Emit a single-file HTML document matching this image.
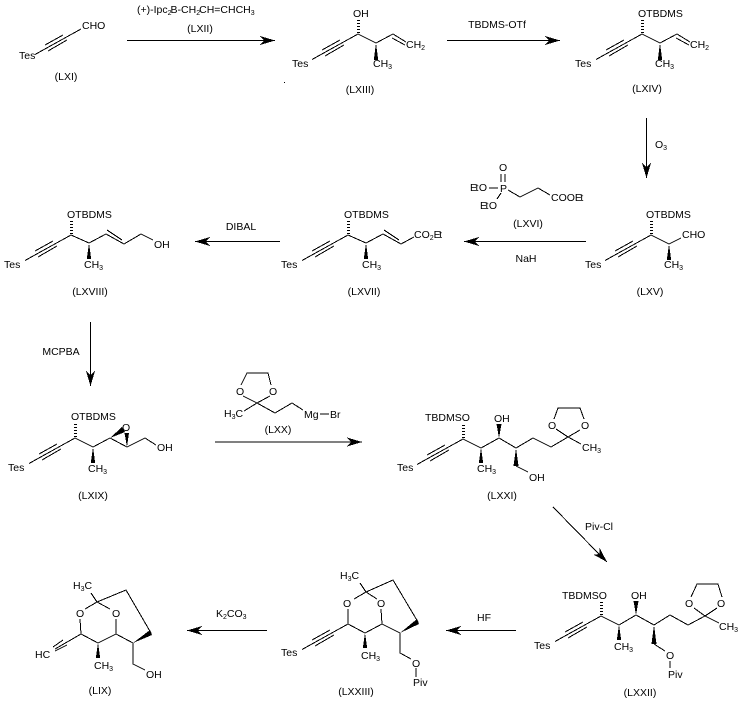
<!DOCTYPE html>
<html><head><meta charset="utf-8"><style>
html,body{margin:0;padding:0;background:#fff}
svg{display:block}
text{font-family:"Liberation Sans",sans-serif;font-size:10.5px;fill:#000}
.m{text-anchor:middle}
.s{font-size:7px}
line,polyline{stroke:#000;stroke-width:1;fill:none;shape-rendering:crispEdges}
polygon{shape-rendering:crispEdges}
.h{stroke-width:2.6;stroke-dasharray:1 2}
</style></head><body>
<svg width="742" height="711" viewBox="0 0 742 711" xmlns="http://www.w3.org/2000/svg">
<defs>
<g id="hr"><line x1="0" y1="0" x2="-14" y2="0"/><polygon points="0,0 -15,-4.5 -11,0 -15,4.5" fill="#000"/></g>
<g id="tb"><line x1="-46" y1="25.5" x2="0" y2="0"/><line x1="-36" y1="16" x2="-18" y2="6"/><line x1="-33" y1="22" x2="-14" y2="11"/></g>
</defs>

<!-- arrows -->
<line x1="127" y1="40.5" x2="262" y2="40.5"/><use href="#hr" transform="translate(275,40.5)"/>
<line x1="447" y1="40.5" x2="548" y2="40.5"/><use href="#hr" transform="translate(560,40.5)"/>
<line x1="646.5" y1="118" x2="646.5" y2="166"/><use href="#hr" transform="translate(646.5,178) rotate(90)"/>
<line x1="586" y1="241.5" x2="476" y2="241.5"/><use href="#hr" transform="translate(464,241.5) rotate(180)"/>
<line x1="280" y1="241.5" x2="207" y2="241.5"/><use href="#hr" transform="translate(195,241.5) rotate(180)"/>
<line x1="90.5" y1="322" x2="90.5" y2="374"/><use href="#hr" transform="translate(90.5,386) rotate(90)"/>
<line x1="215" y1="442" x2="350" y2="442"/><use href="#hr" transform="translate(362,442)"/>
<line x1="553" y1="507" x2="598" y2="553"/><use href="#hr" transform="translate(607,562) rotate(45.5)"/>
<line x1="516" y1="630.5" x2="458" y2="630.5"/><use href="#hr" transform="translate(446,630.5) rotate(180)"/>
<line x1="267" y1="630.5" x2="199" y2="630.5"/><use href="#hr" transform="translate(187,630.5) rotate(180)"/>

<!-- reagent labels -->
<text x="137" y="13">(+)-Ipc<tspan class="s" dy="2">2</tspan><tspan dy="-2" dx="-1">B-CH</tspan><tspan class="s" dy="2">2</tspan><tspan dy="-2" dx="-1">CH=CHCH</tspan><tspan class="s" dy="2">3</tspan></text>
<text class="m" x="200" y="32">(LXII)</text>
<text class="m" x="497" y="28">TBDMS-OTf</text>
<text x="655" y="148">O<tspan class="s" dy="2">3</tspan></text>
<text class="m" x="526" y="262">NaH</text>
<text class="m" x="241" y="230">DIBAL</text>
<text class="m" x="61" y="355">MCPBA</text>
<text x="585" y="530">Piv-Cl</text>
<text class="m" x="484" y="621">HF</text>
<text x="216" y="617">K<tspan class="s" dy="2">2</tspan><tspan dy="-2">CO</tspan><tspan class="s" dy="2">3</tspan></text>

<!-- LXI -->
<use href="#tb" transform="translate(81,29)"/>
<text x="19" y="59">Tes</text><text x="82" y="29">CHO</text>
<text class="m" x="66" y="80">(LXI)</text>

<!-- LXIII -->
<use href="#tb" transform="translate(358,34)"/>
<line class="h" x1="358.5" y1="33" x2="358.5" y2="19"/>
<polyline points="358,34 376,43 393,34 406,42"/><line x1="392" y1="38" x2="405" y2="45"/>
<polygon points="376,43 373.8,60 378.2,60" fill="#000"/>
<text x="292" y="67">Tes</text><text x="353" y="17">OH</text>
<text x="406" y="48">CH<tspan class="s" dy="2">2</tspan></text>
<text x="373" y="67">CH<tspan class="s" dy="2">3</tspan></text>
<text class="m" x="360" y="93">(LXIII)</text>
<rect x="284" y="82" width="1" height="1" fill="#000"/>

<!-- LXIV -->
<use href="#tb" transform="translate(642,34)"/>
<line class="h" x1="642.5" y1="33" x2="642.5" y2="19"/>
<polyline points="642,34 660,43 677,34 690,42"/><line x1="676" y1="38" x2="689" y2="45"/>
<polygon points="660,43 657.8,60 662.2,60" fill="#000"/>
<text x="575" y="67">Tes</text><text x="638" y="17">OTBDMS</text>
<text x="690" y="48">CH<tspan class="s" dy="2">2</tspan></text>
<text x="655" y="67">CH<tspan class="s" dy="2">3</tspan></text>
<text class="m" x="647" y="92">(LXIV)</text>

<!-- LXV -->
<use href="#tb" transform="translate(651,235)"/>
<line class="h" x1="651.5" y1="234" x2="651.5" y2="220"/>
<polyline points="651,235 669,244 681,238"/>
<polygon points="669,244 666.8,260 671.2,260" fill="#000"/>
<text x="585" y="268">Tes</text><text x="646" y="218">OTBDMS</text>
<text x="682" y="238">CHO</text>
<text x="664" y="268">CH<tspan class="s" dy="2">3</tspan></text>
<text class="m" x="650" y="295">(LXV)</text>

<!-- LXVI -->
<text x="499" y="171">O</text>
<line x1="501" y1="174" x2="501" y2="182"/><line x1="505" y1="174" x2="505" y2="182"/>
<text x="500" y="192">P</text>
<line x1="489" y1="188" x2="498" y2="188"/>
<line x1="497" y1="199" x2="501" y2="193"/>
<polyline points="508,190 520,197 538,188 550,195"/>
<text x="470" y="191" letter-spacing="-1.5">Et<tspan letter-spacing="0" dx="2">O</tspan></text>
<text x="480" y="209" letter-spacing="-1.5">Et<tspan letter-spacing="0" dx="2">O</tspan></text>
<text x="551" y="201">COO<tspan letter-spacing="-1.5">Et</tspan></text>
<text class="m" x="528" y="227">(LXVI)</text>

<!-- LXVII -->
<use href="#tb" transform="translate(348,235)"/>
<line class="h" x1="348.5" y1="234" x2="348.5" y2="220"/>
<polyline points="348,235 366,243 383,234 401,244 414,237"/><line x1="384" y1="230" x2="399" y2="240"/>
<polygon points="366,243 363.8,259 368.2,259" fill="#000"/>
<text x="281" y="268">Tes</text><text x="344" y="218">OTBDMS</text>
<text x="414" y="238">CO<tspan class="s" dy="2">2</tspan><tspan dy="-2" letter-spacing="-1.5">Et</tspan></text>
<text x="362" y="268">CH<tspan class="s" dy="2">3</tspan></text>
<text class="m" x="364" y="295">(LXVII)</text>

<!-- LXVIII -->
<use href="#tb" transform="translate(71,235)"/>
<line class="h" x1="71.5" y1="234" x2="71.5" y2="220"/>
<polyline points="71,235 89,243 106,234 124,244 141,234 153,240"/><line x1="107" y1="230" x2="122" y2="240"/>
<polygon points="89,243 86.8,259 91.2,259" fill="#000"/>
<text x="4" y="268">Tes</text><text x="67" y="218">OTBDMS</text>
<text x="154" y="248">OH</text>
<text x="84" y="268">CH<tspan class="s" dy="2">3</tspan></text>
<text class="m" x="90" y="295">(LXVIII)</text>

<!-- LXIX -->
<use href="#tb" transform="translate(75,438)"/>
<line class="h" x1="75.5" y1="437" x2="75.5" y2="423"/>
<polyline points="75,438 93,447 110,438 127,447 145,438 156,445"/>
<polygon points="110,438 122,427 125,432" fill="#000"/>
<polygon points="127,447 124.5,433 129,433" fill="#000"/>
<polygon points="93,447 90.8,463 95.2,463" fill="#000"/>
<text x="71" y="420">OTBDMS</text><text x="122" y="431">O</text>
<text x="8" y="471">Tes</text><text x="157" y="451">OH</text>
<text x="88" y="472">CH<tspan class="s" dy="2">3</tspan></text>
<text class="m" x="93" y="499">(LXIX)</text>

<!-- LXX -->
<polyline points="241,385 247,373 268,373 271,385"/>
<polyline points="243,396 257,403 270,396"/>
<polyline points="244,411 257,403 275,413 292,403 303,410"/>
<line x1="320" y1="414" x2="329" y2="414"/>
<text x="236" y="395">O</text><text x="269" y="395">O</text>
<text x="224" y="417">H<tspan class="s" dy="2">3</tspan><tspan dy="-2">C</tspan></text>
<text x="304" y="418">Mg</text><text x="330" y="418">Br</text>
<text class="m" x="278" y="433">(LXX)</text>

<!-- LXXI -->
<use href="#tb" transform="translate(463,439)"/>
<line class="h" x1="463.5" y1="438" x2="463.5" y2="424"/>
<polyline points="463,439 481,448 499,438 516,448 533,438 551,447 568,437 581,444"/>
<polyline points="516,466 528,472"/>
<polyline points="554,419 558,408 580,408 584,419"/>
<polyline points="556,429 568,437 580,430"/>
<polygon points="481,448 478.8,463 483.2,463" fill="#000"/>
<polygon points="499,438 496.5,424 501.5,424" fill="#000"/>
<polygon points="516,448 513.5,466 518.5,466" fill="#000"/>
<text x="425" y="421">TBDMSO</text><text x="494" y="422">OH</text>
<text x="397" y="471">Tes</text>
<text x="548" y="429">O</text><text x="581" y="429">O</text>
<text x="582" y="451">CH<tspan class="s" dy="2">3</tspan></text>
<text x="477" y="472">CH<tspan class="s" dy="2">3</tspan></text>
<text x="529" y="481">OH</text>
<text class="m" x="502" y="499">(LXXI)</text>

<!-- LXXII -->
<use href="#tb" transform="translate(601,616)"/>
<line class="h" x1="601.5" y1="615" x2="601.5" y2="601"/>
<polyline points="601,616 619,625 636,615 654,625 670,615 688,625 705,616 719,623"/>
<polyline points="654,644 665,651"/>
<polyline points="691,597 697,584 718,584 722,597"/>
<polyline points="694,608 705,616 717,608"/>
<line x1="670" y1="661" x2="670" y2="668"/>
<polygon points="619,625 616.8,640 621.2,640" fill="#000"/>
<polygon points="636,615 633.5,601 638.5,601" fill="#000"/>
<polygon points="654,625 651.5,644 656.5,644" fill="#000"/>
<text x="562" y="599">TBDMSO</text><text x="631" y="599">OH</text>
<text x="534" y="649">Tes</text>
<text x="685" y="607">O</text><text x="717" y="607">O</text>
<text x="719" y="630">CH<tspan class="s" dy="2">3</tspan></text>
<text x="614" y="650">CH<tspan class="s" dy="2">3</tspan></text>
<text x="666" y="659">O</text><text x="668" y="678">Piv</text>
<text class="m" x="640" y="696">(LXXII)</text>

<!-- LXXIII -->
<use href="#tb" transform="translate(348,624)"/>
<polyline points="360,583 366,592"/>
<polyline points="354,599 366,592 377,599"/>
<polyline points="366,592 393,580 418,622"/>
<polyline points="348,609 348,624 365,633 382,624 381,609"/>
<polyline points="382,624 400,633 400,653 411,659"/>
<polygon points="400,633 417,619 419,624" fill="#000"/>
<polygon points="365,633 362.8,648 367.2,648" fill="#000"/>
<line x1="416" y1="668" x2="416" y2="677"/>
<text x="340" y="579">H<tspan class="s" dy="2">3</tspan><tspan dy="-2">C</tspan></text>
<text x="343" y="607">O</text><text x="377" y="607">O</text>
<text x="281" y="656">Tes</text>
<text x="361" y="659">CH<tspan class="s" dy="2">3</tspan></text>
<text x="412" y="667">O</text><text x="413" y="686">Piv</text>
<text class="m" x="356" y="695">(LXXIII)</text>

<!-- LIX -->
<line x1="55" y1="649" x2="81" y2="634"/><line x1="53" y1="647" x2="63" y2="640"/><line x1="55" y1="651" x2="67" y2="645"/>
<polyline points="91,593 97,602"/>
<polyline points="85,609 97,602 110,609"/>
<polyline points="97,602 126,590 151,633"/>
<polyline points="80,619 81,634 98,643 116,634 116,619"/>
<polyline points="116,634 133,643 133,664 145,670"/>
<polygon points="133,643 150,630 152,635" fill="#000"/>
<polygon points="98,643 95.8,658 100.2,658" fill="#000"/>
<text x="73" y="589">H<tspan class="s" dy="2">3</tspan><tspan dy="-2">C</tspan></text>
<text x="76" y="617">O</text><text x="112" y="617">O</text>
<text x="35" y="658">HC</text>
<text x="94" y="669">CH<tspan class="s" dy="2">3</tspan></text>
<text x="146" y="678">OH</text>
<text class="m" x="100" y="694">(LIX)</text>
</svg>
</body></html>
